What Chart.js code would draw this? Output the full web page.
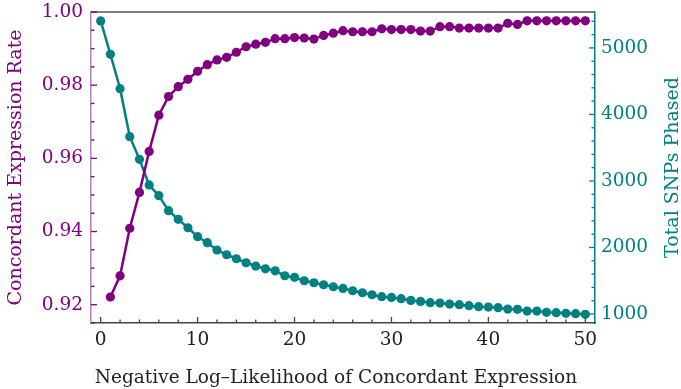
<!DOCTYPE html>
<html><head><meta charset="utf-8">
<script src="https://cdn.jsdelivr.net/npm/chart.js@4"></script>
<style>html,body{margin:0;padding:0;background:#fff}#wrap{width:681px;height:389px}</style>
</head><body><div id="wrap"><canvas id="c" width="681" height="389"></canvas></div>
<script>
const xValues = [0,1,2,3,4,5,6,7,8,9,10,11,12,13,14,15,16,17,18,19,20,21,22,23,24,25,26,27,28,29,30,31,32,33,34,35,36,37,38,39,40,41,42,43,44,45,46,47,48,49,50];
const concordantRate = [null,0.9221,0.9279,0.9409,0.9507,0.9619,0.9718,0.9769,0.9796,0.9816,0.9838,0.9856,0.9869,0.9876,0.9890,0.9905,0.9912,0.9917,0.9927,0.9927,0.9930,0.9929,0.9926,0.9936,0.9942,0.9949,0.9946,0.9946,0.9946,0.9954,0.9952,0.9952,0.9952,0.9948,0.9948,0.9960,0.9960,0.9956,0.9956,0.9956,0.9956,0.9956,0.9969,0.9966,0.9976,0.9976,0.9976,0.9976,0.9976,0.9976,0.9976];
const totalSNPs = [5406,4905,4388,3666,3326,2940,2779,2553,2423,2297,2162,2072,1962,1891,1831,1771,1721,1680,1650,1575,1551,1500,1470,1440,1410,1385,1350,1320,1290,1260,1250,1230,1205,1190,1170,1165,1150,1140,1125,1110,1105,1095,1075,1070,1045,1045,1025,1020,1010,1005,995];
const xTicks = [0,10,20,30,40,50];
const xMinorTicks = [2,4,6,8,12,14,16,18,22,24,26,28,32,34,36,38,42,44,46,48];
const leftTicks = [0.92,0.94,0.96,0.98,1.00];
const leftMinorTicks = [0.915,0.925,0.93,0.935,0.945,0.95,0.955,0.965,0.97,0.975,0.985,0.99,0.995];
const rightTicks = [1000,2000,3000,4000,5000];
const rightMinorTicks = [1200,1400,1600,1800,2200,2400,2600,2800,3200,3400,3600,3800,4200,4400,4600,4800,5200,5400];

const PURPLE = '#800080', TEAL = '#008080';
const FONT = 'DejaVu Serif';
const TICK_SIZE = 18.5, TITLE_SIZE = 19;

const tickPlugin = {
  id: 'inTicks',
  afterDatasetsDraw(chart) {
    const ctx = chart.ctx, a = chart.chartArea;
    ctx.save();
    ctx.strokeStyle = '#555'; ctx.lineWidth = 1.5;
    ctx.beginPath(); ctx.moveTo(a.left, a.top); ctx.lineTo(a.right, a.top); ctx.stroke();
    const draw = (scale, vals, len, color, side) => {
      ctx.strokeStyle = color; ctx.lineWidth = 1.3;
      vals.forEach(v => {
        const p = scale.getPixelForValue(v);
        ctx.beginPath();
        if (side === 'bottom') { ctx.moveTo(p, a.bottom); ctx.lineTo(p, a.bottom - len); }
        else if (side === 'left') { ctx.moveTo(a.left, p); ctx.lineTo(a.left + len, p); }
        else { ctx.moveTo(a.right, p); ctx.lineTo(a.right - len, p); }
        ctx.stroke();
      });
    };
    const s = chart.scales;
    draw(s.x, xTicks, 6, '#444', 'bottom');
    draw(s.x, xMinorTicks, 3.5, '#444', 'bottom');
    draw(s.y, leftTicks, 6, PURPLE, 'left');
    draw(s.y, leftMinorTicks, 3.5, PURPLE, 'left');
    draw(s.y1, rightTicks, 6, TEAL, 'right');
    draw(s.y1, rightMinorTicks, 3.5, TEAL, 'right');
    ctx.restore();
  },
  afterDraw(chart) {
    const ctx = chart.ctx, a = chart.chartArea;
    ctx.save();
    ctx.textAlign = 'center'; ctx.textBaseline = 'middle';
    ctx.fillStyle = '#222';
    ctx.font = '18.5px "' + FONT + '"';
    ctx.fillText('Negative Log\u2013Likelihood of Concordant Expression', 336, 378);
    ctx.fillStyle = TEAL;
    ctx.font = TITLE_SIZE + 'px "' + FONT + '"';
    ctx.translate(673, (a.top + a.bottom) / 2);
    ctx.rotate(-Math.PI / 2);
    ctx.fillText('Total SNPs Phased', 0, 0);
    ctx.restore();
  }
};

const noPad = s => { s.paddingTop = 0; s.paddingBottom = 0; };

new Chart(document.getElementById('c'), {
  type: 'line',
  data: {
    datasets: [
      {
        label: 'Concordant Expression Rate',
        data: xValues.map((x, i) => ({x: x, y: concordantRate[i]})),
        yAxisID: 'y', borderColor: PURPLE, backgroundColor: PURPLE,
        borderWidth: 2.5, pointRadius: 4.6, pointBorderWidth: 0, tension: 0, spanGaps: false
      },
      {
        label: 'Total SNPs Phased',
        data: xValues.map((x, i) => ({x: x, y: totalSNPs[i]})),
        yAxisID: 'y1', borderColor: TEAL, backgroundColor: TEAL,
        borderWidth: 2.5, pointRadius: 4.6, pointBorderWidth: 0, tension: 0
      }
    ]
  },
  options: {
    responsive: false, devicePixelRatio: 1, animation: false,
    layout: { padding: { top: 12, left: 0, right: 0, bottom: 0 } },
    plugins: { legend: { display: false }, tooltip: { enabled: false } },
    scales: {
      x: {
        type: 'linear', position: 'bottom', min: -1, max: 51,
        afterBuildTicks: s => { s.ticks = xTicks.map(v => ({value: v})); },
        afterFit: s => { s.height = 66; },
        grid: { display: false, drawTicks: false },
        border: { color: '#444', width: 1.5 },
        ticks: { color: '#222', font: { family: FONT, size: TICK_SIZE }, padding: 6, autoSkip: false, maxRotation: 0 },
        title: { display: false }
      },
      y: {
        type: 'linear', position: 'left', min: 0.915, max: 1.0,
        afterBuildTicks: s => { s.ticks = leftTicks.map(v => ({value: v})); },
        afterFit: s => { s.width = 91; noPad(s); },
        grid: { display: false, drawTicks: false },
        border: { color: '#b77fb7', width: 1.5 },
        ticks: { color: PURPLE, font: { family: FONT, size: TICK_SIZE }, padding: 8, autoSkip: false, callback: v => v.toFixed(2) },
        title: { display: true, text: 'Concordant Expression Rate', color: PURPLE, font: { family: FONT, size: TITLE_SIZE }, padding: { top: 5 } }
      },
      y1: {
        type: 'linear', position: 'right', min: 865, max: 5540,
        afterBuildTicks: s => { s.ticks = rightTicks.map(v => ({value: v})); },
        afterFit: s => { s.width = 86; noPad(s); },
        grid: { display: false, drawTicks: false },
        border: { color: TEAL, width: 1.5 },
        ticks: { color: TEAL, font: { family: FONT, size: TICK_SIZE }, padding: 6, autoSkip: false, callback: v => String(v) },
        title: { display: false }
      }
    }
  },
  plugins: [tickPlugin]
});
</script>
</body></html>
